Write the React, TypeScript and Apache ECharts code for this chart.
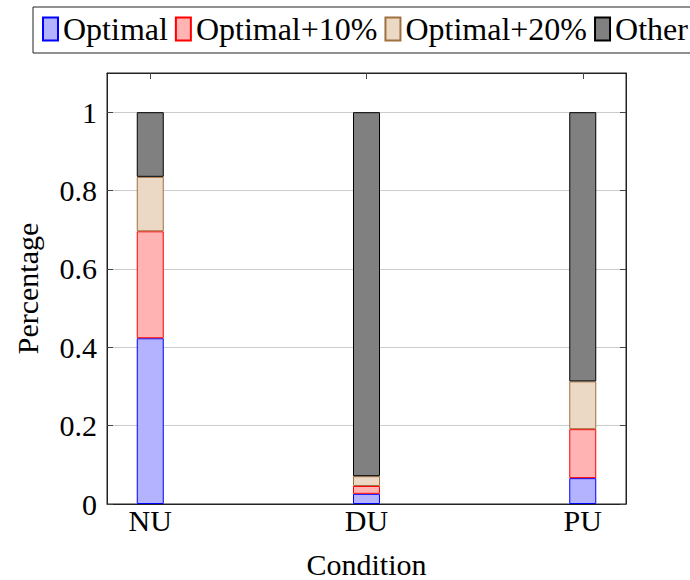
import React, { useEffect, useRef } from "react";
import * as echarts from "echarts";

const categories = ["NU", "DU", "PU"];
const seriesNames = ["Optimal", "Optimal+10%", "Optimal+20%", "Other"];
const optimal = [0.423, 0.026, 0.066];
const optimal10 = [0.273, 0.02, 0.125];
const optimal20 = [0.139, 0.025, 0.122];
const other = [0.165, 0.929, 0.687];
const yTicks = [0, 0.2, 0.4, 0.6, 0.8, 1];

const fills = ["#b3b3ff", "#ffb3b3", "#ebd9c6", "#808080"];
const borders = ["#0000ff", "#ff0000", "#a0703f", "#000000"];

const FONT = "Liberation Serif";
const FS = 30;

export default function App() {
  const ref = useRef<HTMLDivElement>(null);
  useEffect(() => {
    if (!ref.current) return;
    const chart = echarts.init(ref.current, undefined, { renderer: "svg" });
    const values = [optimal, optimal10, optimal20, other];
    const xPos = categories.map((_, i) => i);
    const series = seriesNames.map((name, si) => ({
      name,
      type: "bar" as const,
      stack: "total",
      barWidth: 27,
      xAxisIndex: 0,
      yAxisIndex: 0,
      encode: { x: 1, y: 0 },
      itemStyle: { color: fills[si], borderColor: borders[si], borderWidth: 1 },
      data: values[si].map((v, i) => [v, xPos[i]]),
    }));
    const tickStyle = { lineStyle: { color: "#444", width: 1 } };
    const axisLine = { show: true, onZero: false, lineStyle: { color: "#222" } };
    chart.setOption({
      animation: false,
      textStyle: { fontFamily: FONT },
      legend: {
        data: seriesNames,
        left: 33,
        top: 7,
        width: 760,
        orient: "horizontal",
        padding: [6, 8, 8, 9],
        borderColor: "#222",
        borderWidth: 1,
        itemWidth: 15,
        itemHeight: 23,
        itemGap: 7,
        icon: "rect",
        textStyle: { fontFamily: FONT, fontSize: 32, color: "#000" },
      },
      grid: {
        left: 107,
        right: 64,
        top: 73,
        bottom: 76,
        show: true,
        borderColor: "#222",
        borderWidth: 1,
        backgroundColor: "transparent",
        outerBoundsMode: "none",
        containLabel: false,
      },
      xAxis: [
        {
          type: "value",
          min: -0.2,
          max: 2.2,
          position: "bottom",
          name: "Condition",
          nameLocation: "middle",
          nameGap: 45,
          nameTextStyle: { fontFamily: FONT, fontSize: FS, color: "#000" },
          axisLine,
          axisTick: { show: true, inside: true, length: 6, customValues: xPos, ...tickStyle },
          axisLabel: {
            customValues: xPos,
            fontFamily: FONT,
            fontSize: FS,
            color: "#000",
            margin: 1,
            formatter: (v: number) => categories[Math.round(v)] ?? "",
          },
          splitLine: { show: false },
        },
        {
          type: "value",
          min: -0.2,
          max: 2.2,
          position: "top",
          axisLine,
          axisTick: { show: true, inside: true, length: 6, customValues: xPos, ...tickStyle },
          axisLabel: { show: false },
          splitLine: { show: false },
        },
      ],
      yAxis: [
        {
          type: "value",
          min: 0,
          max: 1.1,
          interval: 0.2,
          position: "left",
          name: "Percentage",
          nameLocation: "middle",
          nameGap: 65,
          nameTextStyle: { fontFamily: FONT, fontSize: FS, color: "#000" },
          axisLine,
          axisTick: { show: true, inside: true, length: 6, customValues: yTicks, ...tickStyle },
          axisLabel: {
            customValues: yTicks,
            fontFamily: FONT,
            fontSize: FS,
            color: "#000",
            margin: 10,
            formatter: (v: number) => (v > 1.05 ? "" : String(Math.round(v * 10) / 10)),
          },
          splitLine: { show: true, lineStyle: { color: "#cccccc", width: 1 } },
        },
        {
          type: "value",
          min: 0,
          max: 1.1,
          interval: 0.2,
          position: "right",
          axisLine,
          axisTick: { show: true, inside: true, length: 6, customValues: yTicks, ...tickStyle },
          axisLabel: { show: false },
          splitLine: { show: false },
        },
      ],
      series,
    });
    return () => chart.dispose();
  }, []);
  return (
    <div
      ref={ref}
      style={{ position: "fixed", left: 0, top: 0, width: 690, height: 580, background: "#fff" }}
    />
  );
}
